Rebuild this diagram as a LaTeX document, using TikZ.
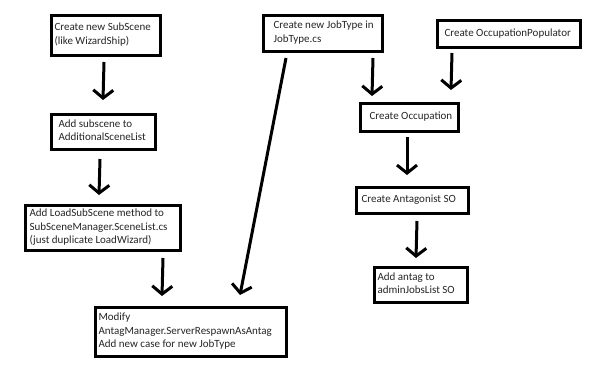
\documentclass[tikz,border=0pt]{standalone}
\usepackage{fontspec}
\setmainfont{Carlito}
\usetikzlibrary{arrows.meta}
\newcommand\boxlines[2]{\makebox[#1][l]{\begin{tabular}{@{}l@{}}#2\end{tabular}}}
\begin{document}
\begin{tikzpicture}[x=1pt,y=-1pt,
  box/.style={draw=black, line width=3pt, anchor=north west, inner ysep=0pt,
    font=\fontsize{11}{13.5}\selectfont, text=black!85},
  arr/.style={line width=3pt, -{Straight Barb[length=8pt,width=20pt]}}]
\useasboundingbox[fill=white] (0,0) rectangle (600,380);
\node[box, minimum width=109pt, minimum height=40pt, inner xsep=3.5pt] (sub) at (49.5,13.5) {\boxlines{102pt}{Create new SubScene\\(like WizardShip)}};
\node[box, minimum width=104pt, minimum height=35pt, inner xsep=7.5pt] (add) at (49.5,112.5) {\boxlines{89pt}{Add subscene to\\AdditionalSceneList}};
\node[box, minimum width=155pt, minimum height=45pt, inner xsep=4.5pt] (load) at (23.5,203.5) {\boxlines{146pt}{Add LoadSubScene method to\\SubSceneManager.SceneList.cs\\(just duplicate LoadWizard)}};
\node[box, minimum width=191pt, minimum height=49pt, inner xsep=3.5pt] (mod) at (93.5,305.5) {\boxlines{184pt}{Modify\\AntagManager.ServerRespawnAsAntag\\Add new case for new JobType}};
\node[box, minimum width=119pt, minimum height=36pt, inner xsep=10.5pt] (job) at (261.5,13.5) {\boxlines{98pt}{Create new JobType in\\JobType.cs}};
\node[box, minimum width=143pt, minimum height=27pt, inner xsep=7.5pt] (pop) at (435.5,18.5) {\boxlines{128pt}{Create OccupationPopulator}};
\node[box, minimum width=98pt, minimum height=28pt, inner xsep=9.5pt] (occ) at (358.5,101.5) {\boxlines{79pt}{Create Occupation}};
\node[box, minimum width=112pt, minimum height=26pt, inner xsep=5.5pt] (ant) at (354.5,185.5) {\boxlines{101pt}{Create Antagonist SO}};
\node[box, minimum width=93pt, minimum height=35pt, inner xsep=3.5pt] (adm) at (372.5,265.5) {\boxlines{86pt}{Add antag to\\adminJobsList SO}};
\coordinate (a1s) at (104,62);  \coordinate (a1e) at (103,100);
\coordinate (a2s) at (100,159); \coordinate (a2e) at (99,195);
\coordinate (a3s) at (163,258); \coordinate (a3e) at (162,296);
\coordinate (a4s) at (286,58);  \coordinate (a4e) at (240,295);
\coordinate (a5s) at (373,58);  \coordinate (a5e) at (372,96);
\coordinate (a6s) at (452,53);  \coordinate (a6e) at (451,90);
\coordinate (a7s) at (407,137); \coordinate (a7e) at (407,175);
\coordinate (a8s) at (417,221); \coordinate (a8e) at (416,258);
\draw[arr] (a1s) -- (a1e);
\draw[arr] (a2s) -- (a2e);
\draw[arr] (a3s) -- (a3e);
\draw[arr] (a4s) -- (a4e);
\draw[arr] (a5s) -- (a5e);
\draw[arr] (a6s) -- (a6e);
\draw[arr] (a7s) -- (a7e);
\draw[arr] (a8s) -- (a8e);
\end{tikzpicture}
\end{document}
